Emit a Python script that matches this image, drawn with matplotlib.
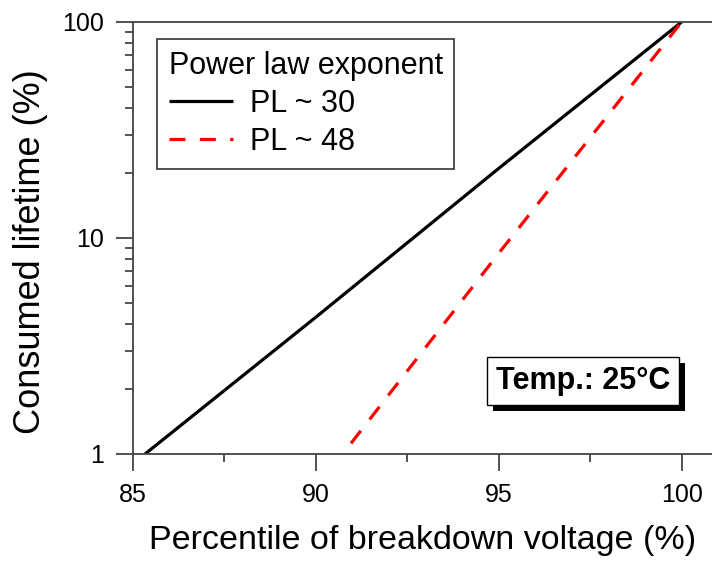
import matplotlib
matplotlib.use("Agg")
import matplotlib.pyplot as plt
import matplotlib.patheffects as pe
from matplotlib.ticker import FixedLocator, NullFormatter, LogLocator

plt.rcParams['font.family'] = ['Liberation Sans', 'DejaVu Sans']

# Data
pl30_x = [85.33, 90.0, 95.0, 100.0]
pl30_y = [1.0, 4.3, 21.0, 100.0]
pl48_x = [90.96, 95.0, 100.0]
pl48_y = [1.12, 8.5, 100.0]
series_labels = ["PL ~ 30", "PL ~ 48"]
legend_title = "Power law exponent"
x_ticks = [85, 90, 95, 100]
y_ticks = [1, 10, 100]
y_tick_labels = ["1", "10", "100"]

fig = plt.figure(figsize=(7.12, 5.62), dpi=100)
ax = fig.add_axes([0.1868, 0.1922, 0.8132, 0.7687])

ax.plot(pl30_x, pl30_y, color='black', lw=2.3, label=series_labels[0], solid_capstyle='butt')
ax.plot(pl48_x, pl48_y, color='red', lw=2.3, dashes=(5, 4.5), label=series_labels[1])

ax.set_yscale('log')
ax.set_xlim(85, 100.83)
ax.set_ylim(1, 100)

spc = '#444444'
for s in ['left', 'bottom', 'top']:
    ax.spines[s].set_color(spc)
    ax.spines[s].set_linewidth(1.3)
ax.spines['right'].set_visible(False)

ax.xaxis.set_major_locator(FixedLocator(x_ticks))
ax.xaxis.set_minor_locator(FixedLocator([87.5, 92.5, 97.5]))
ax.yaxis.set_major_locator(FixedLocator(y_ticks))
ax.set_yticklabels(y_tick_labels)
ax.yaxis.set_minor_locator(LogLocator(base=10, subs=range(2, 10)))
ax.yaxis.set_minor_formatter(NullFormatter())

ax.tick_params(axis='both', which='major', direction='out', length=12, width=1.3,
               color=spc, labelsize=18, pad=9)
ax.tick_params(axis='both', which='minor', direction='out', length=6, width=1.3, color=spc)

ax.set_xlabel("Percentile of breakdown voltage (%)", fontsize=24.5)
ax.xaxis.set_label_coords(0.5, -0.164)
ax.set_ylabel("Consumed lifetime (%)", fontsize=26)
ax.yaxis.set_label_coords(-0.146, 0.468)

leg = ax.legend(title=legend_title, loc='upper left', bbox_to_anchor=(0.0415, 0.9606),
                fontsize=22, title_fontsize=22, frameon=True, fancybox=False,
                edgecolor='black', handlelength=2.1, handletextpad=0.55,
                borderpad=0.38, labelspacing=0.27, borderaxespad=0)
leg.get_frame().set_linewidth(1.2)
leg._legend_box.align = "left"

t = ax.text(0.777, 0.169, "Temp.: 25°C", transform=ax.transAxes, ha='center', va='center',
            fontsize=22, fontweight='bold', color='black', zorder=6,
            bbox=dict(boxstyle='square,pad=0.3', facecolor='white', edgecolor='black',
                      linewidth=1.0))
t.get_bbox_patch().set_path_effects([
    pe.SimplePatchShadow(offset=(4.3, -4.3), shadow_rgbFace='black', alpha=1.0),
    pe.Normal()])

fig.savefig("out.png", dpi=100)
